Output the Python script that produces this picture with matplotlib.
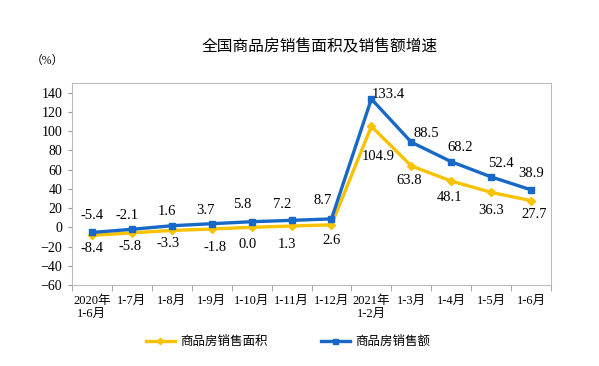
import matplotlib.pyplot as plt
import numpy as np

plt.rcParams['font.family'] = ['Liberation Serif', 'Noto Sans CJK SC']

# 月份标签与两条序列
months = ['2020年\n1-6月', '1-7月', '1-8月', '1-9月', '1-10月', '1-11月', '1-12月',
          '2021年\n1-2月', '1-3月', '1-4月', '1-5月', '1-6月']
area = [-8.4, -5.8, -3.3, -1.8, 0.0, 1.3, 2.6, 104.9, 63.8, 48.1, 36.3, 27.7]
sales = [-5.4, -2.1, 1.6, 3.7, 5.8, 7.2, 8.7, 133.4, 88.5, 68.2, 52.4, 38.9]

# 标签偏移（像素，相对数据点）
sales_off = [(0, 17), (-5, 14), (-5, 14), (-6, 13), (-9, 17), (-9, 16), (-9, 18),
             (17, 4), (15, 9), (9, 14), (10, 13), (0, 16)]
area_off = [(0, -13), (-2, -14), (-4, -13), (3, -18), (-4, -17), (-5, -18), (0, -16),
            (7, -30), (-2, -15), (-2, -16), (0, -18), (3, -14)]

yellow = '#F7C200'
blue = '#1868C8'

fig = plt.figure(figsize=(5.99, 3.66), dpi=100)
ax = fig.add_axes([72 / 599, 1 - 285 / 366, 479 / 599, 202 / 366])

x = np.arange(len(months))
ax.plot(x, area, color=yellow, lw=2.4, marker='D', ms=4, label='商品房销售面积', zorder=3)
ax.plot(x, sales, color=blue, lw=2.4, marker='s', ms=4.5, label='商品房销售额', zorder=4)

px = 72 / 100  # 像素 -> 点
for i, v in enumerate(sales):
    ax.annotate('%.1f' % v, (i, v), xytext=(sales_off[i][0] * px, sales_off[i][1] * px),
                textcoords='offset points', ha='center', va='center', fontsize=10.5)
for i, v in enumerate(area):
    ax.annotate('%.1f' % v, (i, v), xytext=(area_off[i][0] * px, area_off[i][1] * px),
                textcoords='offset points', ha='center', va='center', fontsize=10.5)

ax.set_xlim(-0.5, len(months) - 0.5)
ax.set_ylim(-60, 150)
ax.set_yticks(np.arange(-60, 141, 20))
ax.set_xticks(x)
ax.set_xticklabels(months, fontsize=9, va='top', linespacing=1.15)
ax.set_xticks(np.arange(-0.5, len(months), 1), minor=True)
ax.tick_params(axis='x', which='major', length=0, pad=7)
ax.tick_params(axis='x', which='minor', length=4, color='#999999', direction='out')
ax.tick_params(axis='y', length=3, color='#999999', labelsize=10, pad=4)
for s in ax.spines.values():
    s.set_color('#BBBBBB')
    s.set_linewidth(0.8)

fig.text(320 / 599, 1 - 47 / 366, '全国商品房销售面积及销售额增速', ha='center', va='center', fontsize=11.3)
fig.text(47 / 599, 1 - 61 / 366, '（%）', ha='center', va='center', fontsize=8.5)

fig.legend(loc='center left', bbox_to_anchor=(146 / 599, 1 - 342 / 366), ncol=2, frameon=False,
           fontsize=9, handlelength=2.3, handletextpad=0.4, columnspacing=4.3,
           borderpad=0, borderaxespad=0, markerscale=0.8)

fig.savefig('out.png', dpi=100)
